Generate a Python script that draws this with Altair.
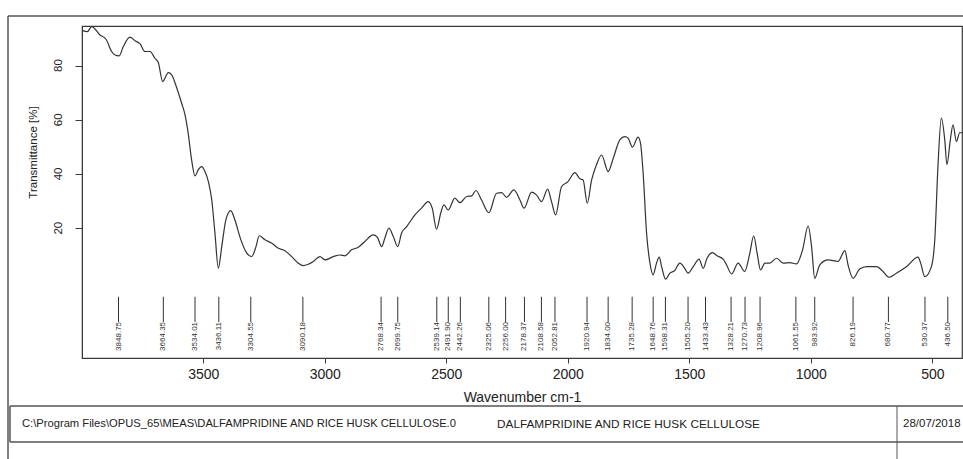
import altair as alt
import pandas as pd

# Spectrum (wavenumber cm-1, transmittance %)
wavenumber = [3996, 3977, 3959, 3925, 3900, 3877, 3863, 3846, 3829, 3802, 3781, 3760, 3740, 3719,
              3699, 3685, 3667, 3644, 3630, 3609, 3589, 3575, 3562, 3548, 3534, 3521, 3507, 3493,
              3479, 3465, 3452, 3438, 3424, 3407, 3387, 3370, 3349, 3321, 3301, 3283, 3270, 3246,
              3219, 3191, 3164, 3136, 3109, 3089, 3068, 3048, 3020, 2999, 2965, 2938, 2917, 2890,
              2862, 2835, 2801, 2784, 2766, 2753, 2736, 2718, 2700, 2684, 2663, 2629, 2602, 2574,
              2558, 2540, 2523, 2510, 2492, 2465, 2444, 2416, 2396, 2378, 2355, 2325, 2293, 2272,
              2252, 2222, 2197, 2180, 2149, 2129, 2108, 2083, 2067, 2050, 2026, 1999, 1971, 1950,
              1937, 1920, 1902, 1882, 1861, 1834, 1813, 1786, 1765, 1752, 1734, 1711, 1701, 1690,
              1676, 1662, 1649, 1635, 1624, 1614, 1598, 1580, 1560, 1539, 1519, 1505, 1484, 1460,
              1443, 1427, 1405, 1386, 1361, 1347, 1326, 1299, 1272, 1251, 1235, 1221, 1207, 1189,
              1169, 1141, 1114, 1087, 1059, 1034, 1011, 997, 984, 963, 929, 888, 860, 847, 826,
              799, 771, 730, 703, 678, 648, 607, 559, 548, 531, 504, 490, 477, 463, 449, 440, 426,
              415, 401, 387, 378]
transmittance = [92.9, 92.5, 94.4, 91.3, 89.7, 85.2, 83.9, 83.6, 87.0, 90.5, 89.2, 88.0, 85.2, 85.2,
                 82.7, 81.1, 74.1, 77.4, 76.6, 71.7, 66.1, 61.8, 55.0, 45.2, 39.3, 41.5, 42.7, 40.9,
                 37.2, 30.4, 18.2, 5.2, 13.2, 23.1, 26.5, 23.1, 16.7, 10.8, 9.5, 13.2, 17.2, 15.7,
                 14.5, 12.6, 11.7, 9.5, 7.1, 6.2, 6.7, 7.7, 9.5, 8.3, 9.5, 10.1, 9.8, 12.0,
                 13.0, 15.1, 17.5, 16.7, 13.2, 16.3, 20.0, 16.9, 13.2, 18.2, 20.6, 24.9, 27.4, 29.8,
                 27.4, 19.6, 25.5, 28.6, 26.7, 31.1, 29.4, 31.7, 31.9, 33.9, 30.4, 25.7, 32.9, 33.1,
                 31.4, 34.1, 30.4, 27.4, 33.3, 32.3, 29.8, 34.4, 29.8, 24.9, 35.3, 37.2, 40.5, 38.2,
                 37.8, 29.2, 37.8, 43.4, 47.0, 40.9, 45.8, 52.6, 53.8, 53.2, 49.9, 53.6, 51.4, 40.3,
                 18.2, 7.1, 2.8, 7.1, 9.3, 5.8, 1.2, 3.4, 4.4, 7.1, 5.2, 3.4, 5.8, 8.6,
                 5.2, 8.9, 11.0, 9.8, 8.6, 6.5, 3.1, 7.1, 4.0, 10.8, 17.2, 10.8, 4.6, 7.1,
                 7.1, 8.9, 7.1, 7.3, 6.8, 12.0, 20.8, 13.2, 1.5, 6.5, 8.3, 7.7, 11.7, 6.5, 1.5,
                 4.9, 5.8, 5.8, 4.0, 1.9, 3.4, 5.8, 9.3, 7.1, 2.1, 5.8, 15.7, 42.7, 60.6, 52.6, 43.4, 52.6,
                 58.1, 52.0, 55.3, 55.1]

# Peak picks
peak_labels = ["3848.75", "3664.35", "3534.01", "3436.11", "3304.55", "3090.18", "2768.34",
               "2699.75", "2539.14", "2491.90", "2442.26", "2325.06", "2256.00", "2178.37",
               "2108.58", "2052.81", "1920.94", "1834.00", "1735.28", "1648.76", "1598.31",
               "1505.20", "1433.43", "1328.21", "1270.73", "1208.96", "1061.55", "983.92",
               "826.19", "680.77", "530.37", "436.50"]

y_ticks = [20, 40, 60, 80]
x_ticks = [3500, 3000, 2500, 2000, 1500, 1000, 500]

footer_path = "C:\\Program Files\\OPUS_65\\MEAS\\DALFAMPRIDINE AND RICE HUSK CELLULOSE.0"
footer_name = "DALFAMPRIDINE AND RICE HUSK CELLULOSE"
footer_date = "28/07/2018"

FONT = "Liberation Sans"
INK = "#3a3a3a"

spec = pd.DataFrame({"w": wavenumber, "t": transmittance, "i": range(len(wavenumber))})
peaks = pd.DataFrame({"w": [float(s) for s in peak_labels], "label": peak_labels,
                      "top": -5.3, "bot": -14.6})
ylab = pd.DataFrame({"v": y_ticks, "s": [str(v) for v in y_ticks]})

yscale = alt.Scale(domain=[-27.9, 94.6], nice=False, zero=False)

xaxis = alt.Axis(values=x_ticks, format="d", title="Wavenumber cm-1", grid=False, tickSize=5,
                 labelFontSize=14, titleFontSize=14, labelPadding=4, titlePadding=9,
                 titleFontWeight="normal", labelFont=FONT, titleFont=FONT,
                 domainColor=INK, tickColor=INK, labelColor="#222", titleColor="#222",
                 labelFlush=False)
yaxis = alt.Axis(values=y_ticks, title="Transmittance [%]", grid=False, tickSize=7,
                 labels=False,
                 titleFont=FONT, titleFontSize=11.5, titleFontWeight="normal",
                 titleX=-49, titleY=126, titleAngle=270, titleAlign="center",
                 titleBaseline="middle", domainColor=INK, tickColor=INK, titleColor="#222")

line = alt.Chart(spec).mark_line(color="#333", strokeWidth=1.2, interpolate="monotone").encode(
    x=alt.X("w:Q", scale=alt.Scale(domain=[3999, 378], nice=False, zero=False), axis=xaxis),
    y=alt.Y("t:Q", scale=yscale, axis=yaxis),
    order="i:Q",
)

# rotated y tick labels
ytext = alt.Chart(ylab).mark_text(angle=270, align="center", baseline="bottom", font=FONT,
                                  fontSize=11.5, color="#222").encode(
    x=alt.value(-18), y=alt.Y("v:Q", scale=yscale), text="s:N")

ticks = alt.Chart(peaks).mark_rule(color="#333", strokeWidth=1).encode(
    x="w:Q", y="top:Q", y2="bot:Q")

labels = alt.Chart(peaks).mark_text(angle=270, align="right", baseline="middle",
                                    font=FONT, fontSize=8, color="#333").encode(
    x="w:Q", y="bot:Q", text="label:N")

# decorative frames (pixel positions relative to plot origin)
def hrule(x1, x2, y, w=1.5):
    return alt.Chart(spec.head(1)).mark_rule(color="#555", strokeWidth=w).encode(
        x=alt.value(x1), x2=alt.value(x2), y=alt.value(y))

def vrule(x, y1, y2, w=1.5):
    return alt.Chart(spec.head(1)).mark_rule(color="#555", strokeWidth=w).encode(
        x=alt.value(x), y=alt.value(y1), y2=alt.value(y2))

frames = [
    hrule(-74, 881, -10), vrule(-74, -10, 433),
    hrule(-72, 881, 380), hrule(-72, 881, 416), vrule(-72, 380, 416), vrule(815, 380, 433, 1),
]

def ftext(x, s, size):
    return alt.Chart(spec.head(1)).mark_text(align="left", baseline="middle", font=FONT,
                                             fontSize=size, color="#222").encode(
        x=alt.value(x), y=alt.value(398), text=alt.value(s))

texts = [ftext(-60, footer_path, 11.2), ftext(415, footer_name, 11.8), ftext(821, footer_date, 11.5)]

chart = alt.layer(line, ytext, ticks, labels, *frames, *texts).properties(
    width=880, height=332,
    autosize=alt.AutoSizeParams(type="none"),
    padding={"left": 82, "top": 26, "right": 1, "bottom": 101},
    background="white",
).configure_view(stroke=INK, strokeWidth=1.2)

chart.save("out.html", embed_options={"renderer": "svg", "actions": False})
